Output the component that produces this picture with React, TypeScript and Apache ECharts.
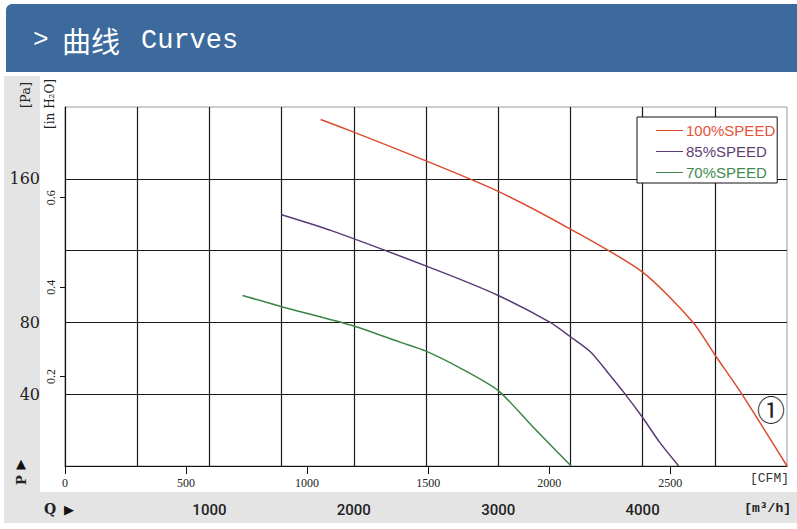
import React, { useEffect, useRef } from 'react';
import * as echarts from 'echarts';

// Axis ranges
const FLOW_MAX_M3H = 5000;
const FLOW_MAX_CFM = 2982;
const PA_MAX = 200;
const INH2O_MAX = 200 / 249.1;

// Tick labels
const M3H_LABELS = [1000, 2000, 3000, 4000];
const CFM_LABELS = [0, 500, 1000, 1500, 2000, 2500];
const PA_LABELS = [40, 80, 160];
const INH2O_LABELS = [0.2, 0.4, 0.6];

// Series
const SERIES_NAMES = ['100%SPEED', '85%SPEED', '70%SPEED'];
const SERIES_COLORS = ['#dc4b2f', '#5b3a78', '#3b8547'];
const LEGEND_TEXT_COLORS = ['#e5533a', '#5e4070', '#3f8a50'];

// Flow in m³/h, pressure in Pa
const Q_100 = [1770, 2000, 2500, 3000, 3500, 4000, 4350, 4500, 4680, 5000];
const P_100 = [193, 186, 170, 153, 132, 108, 80, 62, 41, 0];
const Q_85 = [1500, 1850, 2610, 3000, 3360, 3500, 3640, 3760, 3870, 4000, 4120, 4250];
const P_85 = [140, 131, 108, 95, 80, 72, 63.5, 52, 41, 27, 13, 0];
const Q_70 = [1230, 1490, 2000, 2320, 2500, 2750, 3000, 3250, 3505];
const P_70 = [95, 89, 78, 69, 64, 54, 42, 21, 0];

const SERIES_Q = [Q_100, Q_85, Q_70];
const SERIES_P = [P_100, P_85, P_70];

export default function App() {
  const ref = useRef<HTMLDivElement>(null);

  useEffect(() => {
    if (!ref.current) return;
    const chart = echarts.init(ref.current, undefined, { renderer: 'svg' });
    const gridLine = { color: '#1a1a1a', width: 1.2 };

    const option: any = {
      animation: false,
      backgroundColor: '#fff',
      grid: {
        left: 65, top: 107, right: 10, bottom: 63,
        show: true, borderColor: '#9a9a9a', borderWidth: 1, backgroundColor: '#fff',
      },
      legend: {
        orient: 'vertical',
        left: 637, top: 117,
        padding: [6, 2, 3, 19],
        icon: 'rect',
        itemWidth: 27, itemHeight: 1, itemGap: 6,
        borderColor: '#111', borderWidth: 1, borderRadius: 0,
        backgroundColor: '#fff',
        textStyle: { fontFamily: 'Liberation Sans', fontSize: 15, lineHeight: 14, padding: [0, 0, 0, -2] },
        data: SERIES_NAMES.map((n, i) => ({ name: n, textStyle: { color: LEGEND_TEXT_COLORS[i] } })),
      },
      xAxis: [
        {
          type: 'value', min: 0, max: FLOW_MAX_M3H, interval: 500, position: 'bottom',
          axisLine: { show: true, lineStyle: { color: '#111', width: 1.2 } },
          axisTick: { show: false },
          splitLine: { show: true, showMinLine: false, showMaxLine: false, lineStyle: gridLine },
          axisLabel: {
            margin: 36,
            customValues: M3H_LABELS,
            formatter: (v: number) => String(v),
            fontFamily: 'Roboto', fontSize: 15, fontWeight: 500, color: '#222',
          },
        },
        {
          type: 'value', min: 0, max: FLOW_MAX_CFM, interval: 500, position: 'bottom', offset: 0,
          axisLine: { show: false },
          axisTick: { show: true, length: 8, customValues: CFM_LABELS, lineStyle: { color: '#111' } },
          splitLine: { show: false },
          axisLabel: {
            margin: 11,
            customValues: CFM_LABELS,
            formatter: (v: number) => String(v),
            fontFamily: 'Liberation Serif', fontSize: 12, color: '#222',
          },
        },
      ],
      yAxis: [
        {
          type: 'value', min: 0, max: PA_MAX, interval: 40, position: 'left',
          axisLine: { show: true, lineStyle: { color: '#111', width: 1.2 } },
          axisTick: { show: false },
          splitLine: { show: true, showMinLine: false, showMaxLine: false, lineStyle: gridLine },
          axisLabel: {
            margin: 25,
            customValues: PA_LABELS,
            formatter: (v: number) => String(v),
            fontFamily: 'DejaVu Serif', fontSize: 16, color: '#222',
          },
        },
        {
          type: 'value', min: 0, max: INH2O_MAX, interval: 0.2, position: 'left', offset: 0,
          axisLine: { show: false },
          axisTick: { show: true, length: 5, customValues: INH2O_LABELS, lineStyle: { color: '#111' } },
          splitLine: { show: false },
          axisLabel: {
            margin: 8, rotate: 90,
            customValues: INH2O_LABELS,
            formatter: (v: number) => v.toFixed(1),
            fontFamily: 'Liberation Serif', fontSize: 12, color: '#222',
          },
        },
      ],
      series: SERIES_NAMES.map((name, i) => ({
        name,
        type: 'line',
        xAxisIndex: 0,
        yAxisIndex: 0,
        symbol: 'none',
        smooth: 0.25,
        color: SERIES_COLORS[i],
        lineStyle: { width: 1.5, color: SERIES_COLORS[i] },
        data: SERIES_Q[i].map((q, j) => [q, SERIES_P[i][j]]),
      })),
      graphic: [
        { type: 'rect', z: -10, shape: { x: 6, y: 4, width: 800, height: 68, r: [6, 0, 0, 0] }, style: { fill: '#3d6a9d' } },
        { type: 'text', x: 33, y: 40, style: { text: '>', fill: '#fff', font: '26px "Liberation Mono"', verticalAlign: 'middle' } },
        { type: 'text', x: 62, y: 40, style: { text: '曲线', fill: '#fff', font: '29px "Noto Sans CJK SC"', verticalAlign: 'middle' } },
        { type: 'text', x: 141, y: 41, style: { text: 'Curves', fill: '#fff', font: '27px "Liberation Mono"', verticalAlign: 'middle' } },
        { type: 'rect', z: -10, shape: { x: 4, y: 76, width: 36, height: 420 }, style: { fill: '#e4e4e4' } },
        { type: 'rect', z: -10, shape: { x: 4, y: 492, width: 793, height: 31 }, style: { fill: '#e4e4e4' } },
        { type: 'text', x: 25, y: 95, rotation: Math.PI / 2, style: { text: '[Pa]', fill: '#222', font: '13px "DejaVu Serif"', align: 'center', verticalAlign: 'middle' } },
        { type: 'text', x: 50, y: 104, rotation: Math.PI / 2, style: { text: '[in H₂O]', fill: '#222', font: '12px "DejaVu Serif"', align: 'center', verticalAlign: 'middle' } },
        { type: 'text', x: 21, y: 463, style: { text: '▲', fill: '#111', font: '13px "DejaVu Sans"', align: 'center', verticalAlign: 'middle' } },
        { type: 'text', x: 21, y: 480, rotation: Math.PI / 2, style: { text: 'P', fill: '#222', font: 'bold 13px "DejaVu Serif"', align: 'center', verticalAlign: 'middle' } },
        { type: 'text', x: 50, y: 509, style: { text: 'Q', fill: '#222', font: 'bold 14px "DejaVu Serif"', align: 'center', verticalAlign: 'middle' } },
        { type: 'text', x: 69, y: 509, style: { text: '▶', fill: '#111', font: '13px "DejaVu Sans"', align: 'center', verticalAlign: 'middle' } },
        { type: 'text', x: 789, y: 478, style: { text: '[CFM]', fill: '#333', font: '13px "Liberation Mono"', align: 'right', verticalAlign: 'middle' } },
        { type: 'text', x: 791, y: 508, style: { text: '[m³/h]', fill: '#222', font: 'bold 13px "Liberation Mono"', align: 'right', verticalAlign: 'middle' } },
        { type: 'text', x: 771, y: 411, style: { text: '①', fill: '#222', font: '28px "DejaVu Serif", "Noto Sans CJK SC"', align: 'center', verticalAlign: 'middle' } },
      ],
    };

    chart.setOption(option);
    return () => chart.dispose();
  }, []);

  return (
    <div
      ref={ref}
      style={{ position: 'fixed', left: 0, top: 0, width: 797, height: 529 }}
    />
  );
}
